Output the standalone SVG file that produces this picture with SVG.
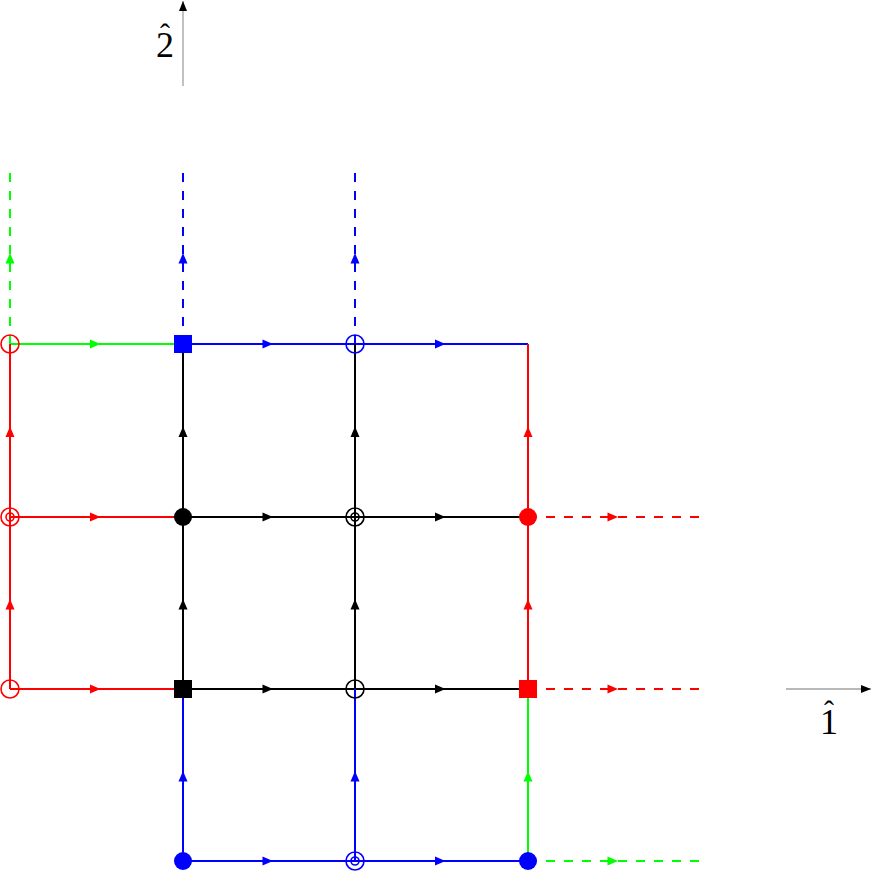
<svg xmlns="http://www.w3.org/2000/svg" width="872" height="872" viewBox="0 0 872 872">
<style>
.e{fill:none;stroke-width:2}
.d{stroke-dasharray:9 9}
.r{stroke:#ff0000}.g{stroke:#00ff00}.b{stroke:#0000ff}.k{stroke:#000000}
.ax{stroke:#a0a0a0;stroke-width:1.3;fill:none}
.oc{fill:none;stroke-width:1.6}
.lbl{font-family:"Liberation Serif","Times New Roman",serif;font-size:36px;fill:#000}
</style>
<defs>
<marker id="ar" markerUnits="userSpaceOnUse" orient="auto" overflow="visible" markerWidth="12" markerHeight="12"><path d="M-6.5,-4.5 L4,0 L-6.5,4.5 z" fill="#ff0000"/></marker>
<marker id="ag" markerUnits="userSpaceOnUse" orient="auto" overflow="visible" markerWidth="12" markerHeight="12"><path d="M-6.5,-4.5 L4,0 L-6.5,4.5 z" fill="#00ff00"/></marker>
<marker id="ab" markerUnits="userSpaceOnUse" orient="auto" overflow="visible" markerWidth="12" markerHeight="12"><path d="M-6.5,-4.5 L4,0 L-6.5,4.5 z" fill="#0000ff"/></marker>
<marker id="ak" markerUnits="userSpaceOnUse" orient="auto" overflow="visible" markerWidth="12" markerHeight="12"><path d="M-6.5,-4.5 L4,0 L-6.5,4.5 z" fill="#000000"/></marker>
<marker id="axh" markerUnits="userSpaceOnUse" orient="auto" overflow="visible" markerWidth="12" markerHeight="12"><path d="M-10,-4 L0,0 L-10,4 z" fill="#000000"/></marker>
</defs>
<g id="axes">
<path class="ax" d="M183,86 L183,1" marker-end="url(#axh)"/>
<path class="ax" d="M786,689 L871,689" marker-end="url(#axh)"/>
<text class="lbl" x="156" y="57">2<tspan x="160" y="44" font-size="30">ˆ</tspan></text>
<text class="lbl" x="820" y="734">1<tspan x="824" y="721" font-size="30">ˆ</tspan></text>
</g>
<g id="connectors">
<path class="e g" d="M10,344 L96.5,344 L183,344" marker-mid="url(#ag)"/>
<path class="e b" d="M183,344 L269,344 L355,344" marker-mid="url(#ab)"/>
<path class="e b" d="M355,344 L441.5,344 L528,344" marker-mid="url(#ab)"/>
<path class="e r" d="M10,517 L96.5,517 L183,517" marker-mid="url(#ar)"/>
<path class="e k" d="M183,517 L269,517 L355,517" marker-mid="url(#ak)"/>
<path class="e k" d="M355,517 L441.5,517 L528,517" marker-mid="url(#ak)"/>
<path class="e r d" d="M528,517 L614,517 L700,517" marker-mid="url(#ar)"/>
<path class="e r" d="M10,689 L96.5,689 L183,689" marker-mid="url(#ar)"/>
<path class="e k" d="M183,689 L269,689 L355,689" marker-mid="url(#ak)"/>
<path class="e k" d="M355,689 L441.5,689 L528,689" marker-mid="url(#ak)"/>
<path class="e r d" d="M528,689 L614,689 L700,689" marker-mid="url(#ar)"/>
<path class="e b" d="M183,861 L269,861 L355,861" marker-mid="url(#ab)"/>
<path class="e b" d="M355,861 L441.5,861 L528,861" marker-mid="url(#ab)"/>
<path class="e g d" d="M528,861 L614,861 L700,861" marker-mid="url(#ag)"/>
<path class="e r" d="M10,689 L10,603 L10,517" marker-mid="url(#ar)"/>
<path class="e r" d="M10,517 L10,430.5 L10,344" marker-mid="url(#ar)"/>
<path class="e g d" d="M10,344 L10,257 L10,170" marker-mid="url(#ag)"/>
<path class="e b" d="M183,861 L183,775 L183,689" marker-mid="url(#ab)"/>
<path class="e k" d="M183,689 L183,603 L183,517" marker-mid="url(#ak)"/>
<path class="e k" d="M183,517 L183,430.5 L183,344" marker-mid="url(#ak)"/>
<path class="e b d" d="M183,344 L183,257 L183,170" marker-mid="url(#ab)"/>
<path class="e b" d="M355,861 L355,775 L355,689" marker-mid="url(#ab)"/>
<path class="e k" d="M355,689 L355,603 L355,517" marker-mid="url(#ak)"/>
<path class="e k" d="M355,517 L355,430.5 L355,344" marker-mid="url(#ak)"/>
<path class="e b d" d="M355,344 L355,257 L355,170" marker-mid="url(#ab)"/>
<path class="e g" d="M528,861 L528,775 L528,689" marker-mid="url(#ag)"/>
<path class="e r" d="M528,689 L528,603 L528,517" marker-mid="url(#ar)"/>
<path class="e r" d="M528,517 L528,430.5 L528,344" marker-mid="url(#ar)"/>
</g>
<g id="n-0-344"><circle class="oc r" cx="10" cy="344" r="9"/></g>
<g id="n-183-344"><rect x="174" y="335" width="18" height="18" fill="#0000ff"/></g>
<g id="n-355-344"><circle class="oc b" cx="355" cy="344" r="9"/></g>
<g id="n-0-517"><circle class="oc r" cx="10" cy="517" r="9"/><circle class="oc r" cx="10" cy="517" r="4"/></g>
<g id="n-183-517"><circle cx="183" cy="517" r="9" fill="#000000"/></g>
<g id="n-355-517"><circle class="oc k" cx="355" cy="517" r="9"/><circle class="oc k" cx="355" cy="517" r="4"/></g>
<g id="n-528-517"><circle cx="528" cy="517" r="9" fill="#ff0000"/></g>
<g id="n-0-689"><circle class="oc r" cx="10" cy="689" r="9"/></g>
<g id="n-183-689"><rect x="174" y="680" width="18" height="18" fill="#000000"/></g>
<g id="n-355-689"><circle class="oc k" cx="355" cy="689" r="9"/></g>
<g id="n-528-689"><rect x="519" y="680" width="18" height="18" fill="#ff0000"/></g>
<g id="n-183-861"><circle cx="183" cy="861" r="9" fill="#0000ff"/></g>
<g id="n-355-861"><circle class="oc b" cx="355" cy="861" r="9"/><circle class="oc b" cx="355" cy="861" r="4"/></g>
<g id="n-528-861"><circle cx="528" cy="861" r="9" fill="#0000ff"/></g>
</svg>
